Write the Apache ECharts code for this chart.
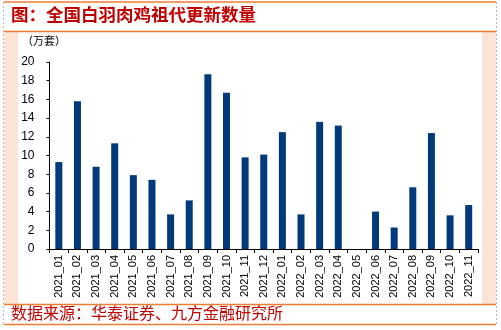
<!DOCTYPE html>
<html>
<head>
<meta charset="utf-8">
<script src="https://cdn.jsdelivr.net/npm/echarts@6/dist/echarts.min.js"></script>
<style>html,body{margin:0;padding:0;background:#fff;}#c{width:501px;height:330px;}</style>
</head>
<body>
<div id="c"></div>
<script>
const categories = ['2021_01','2021_02','2021_03','2021_04','2021_05','2021_06','2021_07','2021_08','2021_09','2021_10','2021_11','2021_12','2022_01','2022_02','2022_03','2022_04','2022_05','2022_06','2022_07','2022_08','2022_09','2022_10','2022_11'];
const values = [9.3,15.8,8.8,11.3,7.9,7.4,3.7,5.2,18.7,16.7,9.8,10.1,12.5,3.7,13.6,13.2,null,4.0,2.3,6.6,12.4,3.6,4.7];
const yTicks = {min:0,max:20,interval:2};
const titleText = '图：全国白羽肉鸡祖代更新数量';
const sourceText = '数据来源：华泰证券、九方金融研究所';
const unitText = '（万套）';

const chart = echarts.init(document.getElementById('c'), null, {renderer:'canvas'});
const orange = '#ed7d31';
const peach = '#fce4d6';
chart.setOption({
  animation:false,
  backgroundColor:'#fff',
  graphic:[
    {type:'rect',shape:{x:4,y:32,width:14,height:272},style:{fill:peach},silent:true},
    {type:'rect',shape:{x:482,y:32,width:14,height:272},style:{fill:peach},silent:true},
    {type:'line',shape:{x1:3.5,y1:2,x2:3.5,y2:325},style:{stroke:'#bbbbbb',lineWidth:1,lineDash:[2,2]}},
    {type:'line',shape:{x1:496.5,y1:2,x2:496.5,y2:325},style:{stroke:'#bbbbbb',lineWidth:1,lineDash:[2,2]}},
    {type:'line',shape:{x1:4,y1:2,x2:496,y2:2},style:{stroke:orange,lineWidth:1.5}},
    {type:'line',shape:{x1:4,y1:31.5,x2:496,y2:31.5},style:{stroke:orange,lineWidth:1.5}},
    {type:'line',shape:{x1:4,y1:304.5,x2:496,y2:304.5},style:{stroke:orange,lineWidth:1.5}},
    {type:'line',shape:{x1:4,y1:324.5,x2:496,y2:324.5},style:{stroke:orange,lineWidth:1.5}},
    {type:'text',left:11,top:6,style:{text:titleText,fill:'#c00000',font:'bold 17.5px "Noto Sans CJK SC"'}},
    {type:'text',left:11,top:305,style:{text:sourceText,fill:'#c00000',font:'16px "Noto Sans CJK SC"'}},
    {type:'text',left:22,top:35,style:{text:unitText,fill:'#000',font:'11px "Noto Sans CJK SC"'}}
  ],
  grid:{left:49.5,right:23,top:62,bottom:81,containLabel:false},
  xAxis:{
    type:'category',data:categories,boundaryGap:true,
    axisLine:{lineStyle:{color:'#000',width:1}},
    axisTick:{show:true,alignWithLabel:false,length:4,lineStyle:{color:'#000'}},
    axisLabel:{rotate:90,interval:0,fontSize:11,color:'#000',fontFamily:'Arial, Liberation Sans',margin:6}
  },
  yAxis:{
    type:'value',min:yTicks.min,max:yTicks.max,interval:yTicks.interval,
    axisLine:{show:true,lineStyle:{color:'#000',width:1}},
    axisTick:{show:true,length:3,lineStyle:{color:'#000'}},
    splitLine:{show:false},
    axisLabel:{fontSize:12,color:'#000',fontFamily:'Arial, Liberation Sans',margin:15}
  },
  series:[{type:'bar',data:values,barWidth:7,itemStyle:{color:'#003a7a'}}]
});
</script>
</body>
</html>
